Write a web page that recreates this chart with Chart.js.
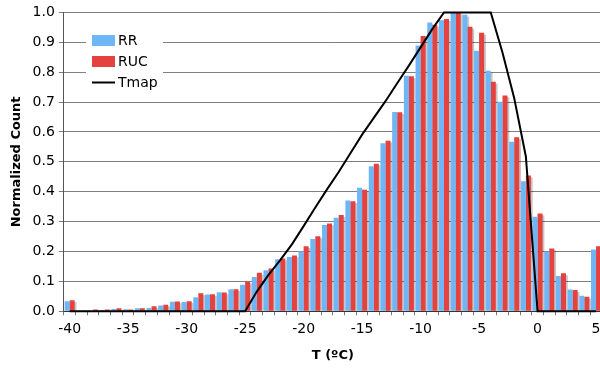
<!DOCTYPE html>
<html>
<head>
<meta charset="utf-8">
<script src="https://cdn.jsdelivr.net/npm/chart.js@4"></script>
<style>
  html, body { margin: 0; padding: 0; overflow: hidden; background: #fff; }
  canvas { display: block; }
</style>
</head>
<body>
<canvas id="myChart" width="608" height="368"></canvas>
<script>
// temperature bins (deg C)
let temps = [-40, -39, -38, -37, -36, -35, -34, -33, -32, -31,
             -30, -29, -28, -27, -26, -25, -24, -23, -22, -21,
             -20, -19, -18, -17, -16, -15, -14, -13, -12, -11,
             -10, -9, -8, -7, -6, -5, -4, -3, -2, -1,
             0, 1, 2, 3, 4, 5];

let rr = [0.034, 0.003, 0.003, 0.004, 0.008, 0.007, 0.010, 0.011, 0.019, 0.032,
          0.031, 0.047, 0.056, 0.064, 0.074, 0.089, 0.115, 0.137, 0.174, 0.182,
          0.200, 0.242, 0.289, 0.313, 0.371, 0.413, 0.485, 0.562, 0.667, 0.788,
          0.889, 0.966, 0.974, 1.000, 0.992, 0.872, 0.805, 0.701, 0.567, 0.435,
          0.316, 0.199, 0.118, 0.073, 0.052, 0.207];

let ruc = [0.037, 0.003, 0.006, 0.006, 0.010, 0.006, 0.010, 0.017, 0.022, 0.033,
           0.034, 0.060, 0.057, 0.063, 0.074, 0.099, 0.129, 0.143, 0.177, 0.187,
           0.218, 0.251, 0.294, 0.322, 0.368, 0.407, 0.494, 0.571, 0.666, 0.786,
           0.921, 0.958, 0.978, 1.000, 0.952, 0.932, 0.768, 0.722, 0.582, 0.454,
           0.327, 0.210, 0.127, 0.071, 0.049, 0.218];

let tmap = [0, 0, 0, 0, 0, 0, 0, 0, 0, 0,
            0, 0, 0, 0, 0, 0, 0.066, 0.122, 0.171, 0.224,
            0.285, 0.347, 0.408, 0.466, 0.529, 0.591, 0.647, 0.703, 0.763, 0.822,
            0.883, 0.944, 1, 1, 1, 1, 1, 0.866, 0.714, 0.518,
            0, 0, 0, 0, 0, 0];

let yTicks = [0, 0.1, 0.2, 0.3, 0.4, 0.5, 0.6, 0.7, 0.8, 0.9, 1.0];

let font = 'DejaVu Sans';

// grey shadow strip behind every bar, drawn before any bar so bars cover it
let barShadow = {
  id: 'barShadow',
  beforeDatasetsDraw(chart) {
    let ctx = chart.ctx;
    let area = chart.chartArea;
    ctx.save();
    ctx.beginPath();
    ctx.rect(area.left, area.top, area.right - area.left, area.bottom - area.top);
    ctx.clip();
    ctx.fillStyle = 'rgba(0, 0, 0, 0.22)';
    chart.getSortedVisibleDatasetMetas().forEach(function(meta) {
      if (meta.type !== 'bar') return;
      meta.data.forEach(function(bar) {
        let p = bar.getProps(['x', 'y', 'base', 'width'], true);
        let left = p.x - p.width / 2 + 1.8;
        let top = p.y + 1.8;
        if (p.base - top > 0) ctx.fillRect(left, top, p.width, p.base - top);
      });
    });
    ctx.restore();
  }
};

// legend sits inside the plot, top left
let boxLegend = {
  id: 'boxLegend',
  afterDraw(chart) {
    let ctx = chart.ctx;
    ctx.save();
    ctx.fillStyle = '#fff';
    ctx.fillRect(86, 29, 77, 63);
    let items = ['RR', 'RUC', 'Tmap'];
    items.forEach(function(name, i) {
      let ds = chart.data.datasets.find(d => d.label === name);
      let top = 35 + i * 21;
      if (ds.type === 'line') {
        ctx.strokeStyle = ds.borderColor;
        ctx.lineWidth = 2;
        ctx.beginPath();
        ctx.moveTo(92, top + 5.5);
        ctx.lineTo(115, top + 5.5);
        ctx.stroke();
      } else {
        ctx.fillStyle = ds.backgroundColor;
        ctx.fillRect(92, top, 23, 11);
      }
      ctx.fillStyle = '#000';
      ctx.font = '14px "' + font + '"';
      ctx.textBaseline = 'middle';
      ctx.textAlign = 'left';
      ctx.fillText(name, 118, top + 6);
    });
    ctx.restore();
  }
};

let myChart = new Chart(document.getElementById('myChart'), {
  type: 'bar',
  data: {
    labels: temps,
    datasets: [
      {
        label: 'RR',
        data: rr,
        backgroundColor: '#6fb6f7',
        borderWidth: 0,
        categoryPercentage: 0.86,
        barPercentage: 1,
        order: 1
      },
      {
        label: 'RUC',
        data: ruc,
        backgroundColor: '#e5413f',
        borderWidth: 0,
        categoryPercentage: 0.86,
        barPercentage: 1,
        order: 2
      },
      {
        type: 'line',
        label: 'Tmap',
        data: tmap,
        borderColor: '#000',
        borderWidth: 2,
        pointRadius: 0,
        tension: 0,
        clip: false,
        order: 0
      }
    ]
  },
  options: {
    responsive: false,
    animation: false,
    devicePixelRatio: 1,
    layout: {
      padding: { top: 11.3, right: 6.1, left: 0, bottom: 0 }
    },
    plugins: {
      legend: { display: false },
      tooltip: { enabled: false }
    },
    scales: {
      x: {
        offset: true,
        grid: {
          offset: true,
          drawOnChartArea: false,
          tickLength: 4,
          color: '#777'
        },
        border: { color: '#333' },
        ticks: {
          autoSkip: false,
          maxRotation: 0,
          minRotation: 0,
          padding: 6,
          color: '#000',
          font: { family: font, size: 14 },
          callback: function(v, i) {
            let t = temps[i];
            return t % 5 === 0 ? String(t) : '';
          }
        },
        title: {
          display: true,
          text: 'T (ºC)',
          color: '#000',
          font: { family: font, size: 13, weight: 'bold' },
          padding: { top: 0, bottom: 5 }
        },
        afterFit: function(scale) { scale.height = 56.7; }
      },
      y: {
        min: 0,
        max: 1,
        afterBuildTicks: function(scale) {
          scale.ticks = yTicks.map(v => ({ value: v }));
        },
        grid: { color: '#808080', tickLength: 5 },
        border: { color: '#555' },
        ticks: {
          padding: 4,
          color: '#000',
          font: { family: font, size: 14 },
          callback: v => v.toFixed(1)
        },
        title: {
          display: true,
          text: 'Normalized Count',
          color: '#000',
          font: { family: font, size: 13, weight: 'bold' },
          padding: { top: 9, bottom: 0 }
        },
        afterFit: function(scale) { scale.width = 63.8; }
      }
    }
  },
  plugins: [barShadow, boxLegend]
});
</script>
</body>
</html>
